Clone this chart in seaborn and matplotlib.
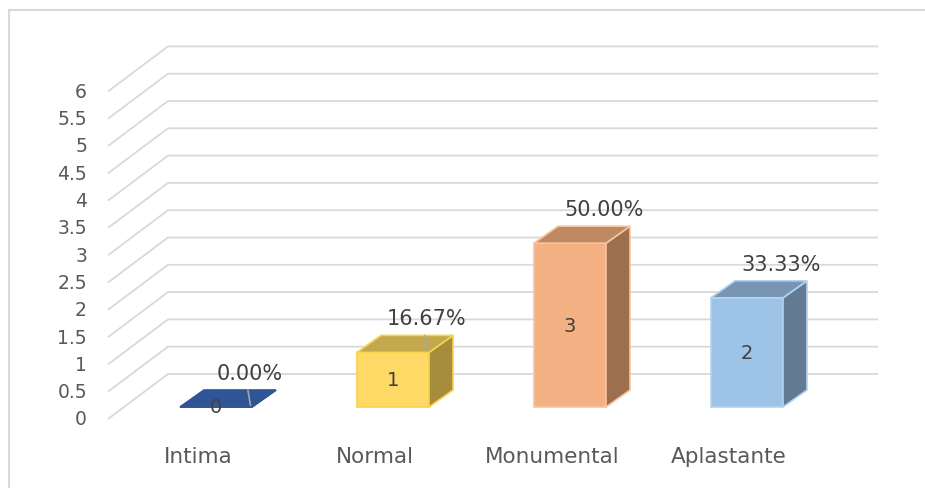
import numpy as np
import matplotlib
matplotlib.use("Agg")
import matplotlib.pyplot as plt
from matplotlib.patches import Polygon
from matplotlib.lines import Line2D
import seaborn as sns

# data
categories = ["Intima", "Normal", "Monumental", "Aplastante"]
counts = [0, 1, 3, 2]
percents = [0.00, 16.67, 50.00, 33.33]
y_ticks = [0, 0.5, 1, 1.5, 2, 2.5, 3, 3.5, 4, 4.5, 5, 5.5, 6]

front_colors = ["#2F5597", "#FFD966", "#F4B183", "#9DC3E6"]
edge_colors = ["#2F5597", "#F7D24E", "#F8C4A0", "#B4D3EE"]
top_colors = ["#2F5597", "#C4A84E", "#BF8964", "#7896B4"]
side_colors = ["#2F5597", "#A68D3E", "#9C6F4F", "#637B92"]

# pixel layout (fig is 925x489 px)
W, H = 925, 489
PX, PY = 177.0, 54.6        # px per category / per value unit
X0, Y0 = 216.0, 408.0       # pixel of first bar centre / bar base
DX, DY = 24 / PX, 17 / PY   # bar depth offset


def px(x):
    return (x - X0) / PX


def py(y):
    return (Y0 - y) / PY


sns.set_style("white")
plt.rcParams['font.family'] = ['DejaVu Sans']

fig = plt.figure(figsize=(W / 100, H / 100), dpi=100)
ax = fig.add_axes([0, 0, 1, 1])
ax.set_xlim(px(0), px(W))
ax.set_ylim(py(H), py(0))
ax.set_axis_off()

# walls / gridlines
grid_c = "#D9D9D9"
for v in y_ticks:
    fy = v + py(420)
    by = v + py(375)
    ax.plot([px(108), px(168), px(878)], [fy, by, by], color=grid_c, lw=1.3, zorder=0,
            solid_capstyle="butt")
    ax.text(px(87), fy, f"{v:g}", ha="right", va="center", fontsize=13.5, color="#595959")

# front faces through seaborn
sns.barplot(x=categories, y=counts, hue=categories, palette=front_colors, width=72 / PX,
            saturation=1, legend=False, ax=ax, zorder=3, linewidth=1.2)
ax.set_xlim(px(0), px(W))
ax.set_ylim(py(H), py(0))

for i, bar in enumerate(ax.patches):
    x0 = bar.get_x()
    w = bar.get_width()
    h = bar.get_height()
    bar.set_edgecolor(edge_colors[i])
    top = Polygon([(x0, h), (x0 + w, h), (x0 + w + DX, h + DY), (x0 + DX, h + DY)],
                  closed=True, facecolor=top_colors[i], edgecolor=edge_colors[i], lw=1.2, zorder=3)
    side = Polygon([(x0 + w, 0), (x0 + w + DX, DY), (x0 + w + DX, h + DY), (x0 + w, h)],
                   closed=True, facecolor=side_colors[i], edgecolor=edge_colors[i], lw=1.2, zorder=3)
    ax.add_patch(side)
    ax.add_patch(top)

    cx = x0 + w / 2
    ax.text(cx, h / 2, f"{counts[i]}", ha="center", va="center", fontsize=14,
            color="#404040", zorder=5)
    ax.text(cx + 0.19, h + DY + 17 / PY, f"{percents[i]:.2f}%", ha="center", va="center",
            fontsize=15, color="#404040", zorder=5)
    if counts[i] <= 1:
        ax.plot([cx + 0.18, cx + 0.195], [h + DY, h + 0.03], color="#A6A6A6", lw=1.2, zorder=4)

    ax.text(cx - 18 / PX, py(457), categories[i], ha="center", va="center", fontsize=15.5,
            color="#595959")

# chart border (top and left only visible)
fig.add_artist(Line2D([8.5 / W, 1], [1 - 11 / H, 1 - 11 / H], color=grid_c, lw=1.5))
fig.add_artist(Line2D([8.5 / W, 8.5 / W], [0, 1 - 11 / H], color=grid_c, lw=1.5))

fig.savefig("out.png", dpi=100, facecolor="white")
